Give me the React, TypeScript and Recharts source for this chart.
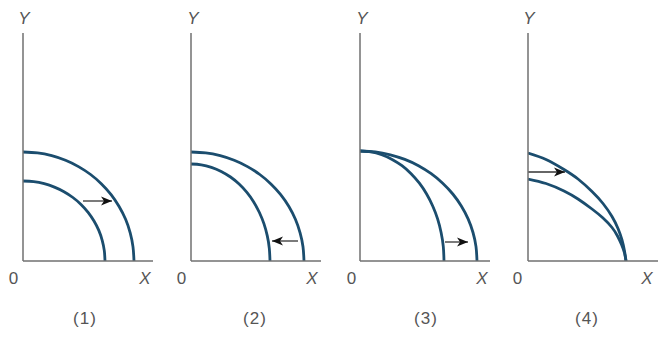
import { LineChart, Line, XAxis, YAxis } from "recharts";

// production possibility curves, units = tenths of the axis pixels
const p1Outer = [
  { x: 0, y: 10.9 }, { x: 1.45, y: 10.81 }, { x: 2.87, y: 10.53 }, { x: 4.25, y: 10.07 },
  { x: 5.55, y: 9.44 }, { x: 6.76, y: 8.65 }, { x: 7.85, y: 7.71 }, { x: 8.81, y: 6.64 },
  { x: 9.61, y: 5.45 }, { x: 10.26, y: 4.17 }, { x: 10.72, y: 2.82 }, { x: 11.0, y: 1.42 },
  { x: 11.1, y: 0 },
];
const p1Inner = [
  { x: 0, y: 8.0 }, { x: 1.07, y: 7.93 }, { x: 2.12, y: 7.73 }, { x: 3.14, y: 7.39 },
  { x: 4.1, y: 6.93 }, { x: 4.99, y: 6.35 }, { x: 5.8, y: 5.66 }, { x: 6.51, y: 4.87 },
  { x: 7.1, y: 4.0 }, { x: 7.58, y: 3.06 }, { x: 7.92, y: 2.07 }, { x: 8.13, y: 1.04 },
  { x: 8.2, y: 0 },
];
const p2Outer = [
  { x: 0, y: 10.9 }, { x: 1.47, y: 10.81 }, { x: 2.92, y: 10.53 }, { x: 4.32, y: 10.07 },
  { x: 5.65, y: 9.44 }, { x: 6.88, y: 8.65 }, { x: 7.99, y: 7.71 }, { x: 8.97, y: 6.64 },
  { x: 9.79, y: 5.45 }, { x: 10.44, y: 4.17 }, { x: 10.91, y: 2.82 }, { x: 11.2, y: 1.42 },
  { x: 11.3, y: 0 },
];
const p2Inner = [
  { x: 0, y: 9.7 }, { x: 1.03, y: 9.62 }, { x: 2.04, y: 9.37 }, { x: 3.02, y: 8.96 },
  { x: 3.95, y: 8.4 }, { x: 4.81, y: 7.7 }, { x: 5.59, y: 6.86 }, { x: 6.27, y: 5.91 },
  { x: 6.84, y: 4.85 }, { x: 7.3, y: 3.71 }, { x: 7.63, y: 2.51 }, { x: 7.83, y: 1.27 },
  { x: 7.9, y: 0 },
];
const p3Outer = [
  { x: 0, y: 11.0 }, { x: 1.53, y: 10.91 }, { x: 3.03, y: 10.62 }, { x: 4.48, y: 10.16 },
  { x: 5.85, y: 9.53 }, { x: 7.12, y: 8.73 }, { x: 8.27, y: 7.78 }, { x: 9.28, y: 6.7 },
  { x: 10.13, y: 5.5 }, { x: 10.81, y: 4.21 }, { x: 11.3, y: 2.85 }, { x: 11.6, y: 1.44 },
  { x: 11.7, y: 0 },
];
const p3Inner = [
  { x: 0, y: 11.0 }, { x: 1.1, y: 10.91 }, { x: 2.17, y: 10.62 }, { x: 3.21, y: 10.16 },
  { x: 4.2, y: 9.53 }, { x: 5.11, y: 8.73 }, { x: 5.94, y: 7.78 }, { x: 6.66, y: 6.7 },
  { x: 7.27, y: 5.5 }, { x: 7.76, y: 4.21 }, { x: 8.11, y: 2.85 }, { x: 8.33, y: 1.44 },
  { x: 8.4, y: 0 },
];
const p4Outer = [
  { x: 0, y: 10.8 }, { x: 1.8, y: 10.15 }, { x: 3.6, y: 9.15 }, { x: 5.0, y: 8.2 },
  { x: 6.4, y: 6.95 }, { x: 7.5, y: 5.75 }, { x: 8.4, y: 4.45 }, { x: 9.0, y: 3.25 },
  { x: 9.4, y: 2.1 }, { x: 9.65, y: 1.0 }, { x: 9.8, y: 0 },
];
const p4Inner = [
  { x: 0, y: 8.2 }, { x: 1.8, y: 7.75 }, { x: 3.6, y: 7.0 }, { x: 5.0, y: 6.2 },
  { x: 6.4, y: 5.2 }, { x: 7.5, y: 4.3 }, { x: 8.4, y: 3.35 }, { x: 8.95, y: 2.5 },
  { x: 9.35, y: 1.65 }, { x: 9.65, y: 0.8 }, { x: 9.8, y: 0 },
];

// shift arrows: from -> to
const p1Arrow = [{ x: 6.0, y: 6.0 }, { x: 8.9, y: 6.0 }];
const p2Arrow = [{ x: 10.7, y: 2.0 }, { x: 8.1, y: 2.0 }];
const p3Arrow = [{ x: 8.5, y: 1.9 }, { x: 10.8, y: 1.9 }];
const p4Arrow = [{ x: 0, y: 8.9 }, { x: 3.7, y: 8.9 }];

const panelLabels = ["(1)", "(2)", "(3)", "(4)"];
const axisNames = { x: "X", y: "Y", origin: "0" };

const panels = [
  { originX: 23, outer: p1Outer, inner: p1Inner, arrow: p1Arrow, yLbl: 24, zeroLbl: 14, xLbl: 145, capLbl: 85 },
  { originX: 191, outer: p2Outer, inner: p2Inner, arrow: p2Arrow, yLbl: 193, zeroLbl: 182, xLbl: 312, capLbl: 255 },
  { originX: 360, outer: p3Outer, inner: p3Inner, arrow: p3Arrow, yLbl: 362, zeroLbl: 352, xLbl: 482, capLbl: 426 },
  { originX: 528, outer: p4Outer, inner: p4Inner, arrow: p4Arrow, yLbl: 529, zeroLbl: 518, xLbl: 647, capLbl: 587 },
];

const CURVE = "#1b4d6e";
const AXIS = "#707070";
const TEXT = "#555";
const FONT = "'Liberation Sans', Arial, sans-serif";

const arrowHead = (dir: number) => (props: any) => {
  const { cx, cy, index } = props;
  if (index !== 1) return <g key={`d${index}`} />;
  const pts = [
    [cx, cy],
    [cx - dir * 11, cy - 4.5],
    [cx - dir * 8, cy],
    [cx - dir * 11, cy + 4.5],
  ]
    .map((p) => p.join(","))
    .join(" ");
  return <polygon key={`d${index}`} points={pts} fill="#111" />;
};

const Panel = ({ p }: { p: (typeof panels)[number] }) => {
  const dir = p.arrow[1].x > p.arrow[0].x ? 1 : -1;
  return (
    <div style={{ position: "absolute", left: p.originX - 20, top: 23 }}>
      <LineChart width={155} height={258} margin={{ top: 10, right: 5, bottom: 19, left: 19 }}>
        <XAxis
          type="number"
          dataKey="x"
          domain={[0, 13]}
          allowDataOverflow
          tick={false}
          tickLine={false}
          height={1}
          axisLine={{ stroke: AXIS, strokeWidth: 1.5 }}
        />
        <YAxis
          type="number"
          dataKey="y"
          domain={[0, 22.8]}
          allowDataOverflow
          tick={false}
          tickLine={false}
          width={1}
          axisLine={{ stroke: AXIS, strokeWidth: 1.5 }}
        />
        <Line data={p.outer} dataKey="y" type="natural" stroke={CURVE} strokeWidth={2.8} dot={false} activeDot={false} isAnimationActive={false} />
        <Line data={p.inner} dataKey="y" type="natural" stroke={CURVE} strokeWidth={2.8} dot={false} activeDot={false} isAnimationActive={false} />
        <Line data={p.arrow} dataKey="y" type="linear" stroke="#333" strokeWidth={1.3} dot={arrowHead(dir)} activeDot={false} isAnimationActive={false} />
      </LineChart>
    </div>
  );
};

const Txt = ({ x, y, text, italic }: { x: number; y: number; text: string; italic?: boolean }) => (
  <div
    style={{
      position: "absolute",
      left: x,
      top: y,
      transform: "translateX(-50%)",
      fontFamily: FONT,
      fontSize: 17,
      lineHeight: "17px",
      letterSpacing: italic ? 0 : 1,
      fontStyle: italic ? "italic" : "normal",
      color: TEXT,
      whiteSpace: "nowrap",
    }}
  >
    {text}
  </div>
);

export default function App() {
  return (
    <div style={{ position: "relative", width: 663, height: 337, overflow: "hidden", background: "#fff" }}>
      <style>{`body{margin:0}`}</style>
      {panels.map((p, i) => (
        <div key={i}>
          <Panel p={p} />
          <Txt x={p.yLbl} y={10} text={axisNames.y} italic />
          <Txt x={p.zeroLbl} y={270} text={axisNames.origin} />
          <Txt x={p.xLbl} y={270} text={axisNames.x} italic />
          <Txt x={p.capLbl} y={310} text={panelLabels[i]} />
        </div>
      ))}
    </div>
  );
}
